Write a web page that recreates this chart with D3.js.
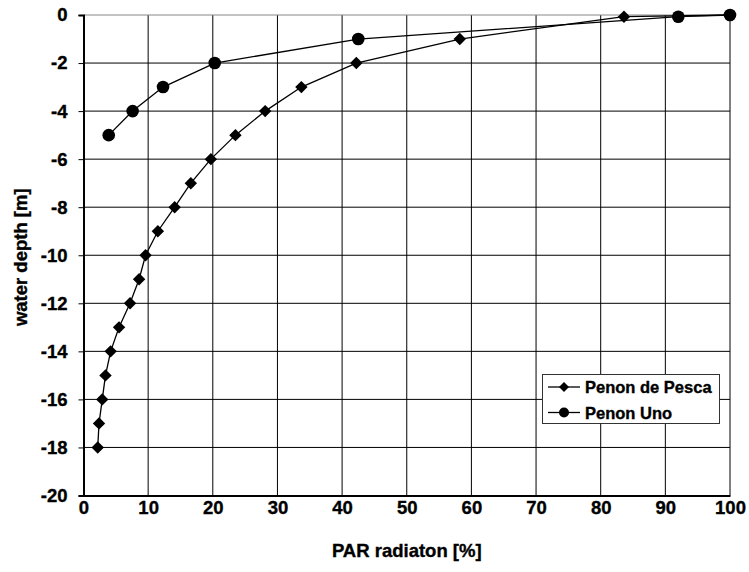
<!DOCTYPE html>
<html><head><meta charset="utf-8">
<script src="https://cdn.jsdelivr.net/npm/d3@7"></script>
<style>body{margin:0;background:#fff}</style>
</head><body>
<svg id="c" width="749" height="572"></svg>
<script>
const pescaX = [100, 83.6, 58.2, 42.2, 33.7, 28.1, 23.5, 19.7, 16.6, 14.1, 11.5, 9.6, 8.6, 7.2, 5.5, 4.2, 3.4, 2.9, 2.4, 2.2];
const pescaY = [0, -0.07, -1, -2, -3, -4, -5, -6, -7, -8, -9, -10, -11, -12, -13, -14, -15, -16, -17, -18];
const unoX = [100, 92.0, 42.5, 20.3, 12.3, 7.6, 3.9];
const unoY = [0, -0.07, -1, -2, -3, -4, -5];
const xTicks = [0,10,20,30,40,50,60,70,80,90,100];
const yTicks = [0,-2,-4,-6,-8,-10,-12,-14,-16,-18,-20];
const seriesNames = ["Penon de Pesca", "Penon Uno"];

const svg = d3.select("#c");
const L = 83.5, R = 730, T = 15, B = 495.5;
const x = d3.scaleLinear().domain([0,100]).range([L,R]);
const y = d3.scaleLinear().domain([-20,0]).range([B,T]);
const font = "'Liberation Sans', Arial, sans-serif";
const fmt = d => String(d);
const sw = 0.35;

// grid
const g = svg.append("g");
g.selectAll("line.v").data(xTicks.slice(1)).join("line")
  .attr("x1", d=>x(d)).attr("x2", d=>x(d)).attr("y1", T).attr("y2", B)
  .attr("stroke", "#000").attr("stroke-width", 1);
g.selectAll("line.h").data(yTicks.slice(0,-1)).join("line")
  .attr("x1", L).attr("x2", R).attr("y1", d=>y(d)).attr("y2", d=>y(d))
  .attr("stroke", d=> d===0 ? "#888" : "#000").attr("stroke-width", 1);

// axes
const yAxis = d3.axisLeft(y).tickValues(yTicks).tickSize(5).tickPadding(11).tickFormat(fmt);
const ya = svg.append("g").attr("transform", `translate(${L},0)`).call(yAxis);
ya.select(".domain").attr("stroke-width", 2);
ya.selectAll("text").attr("font-family", font).attr("font-weight", "bold").attr("font-size", 18.5)
  .attr("fill","#000").attr("stroke","#000").attr("stroke-width", sw);

const xAxis = d3.axisBottom(x).tickValues(xTicks).tickSize(0).tickPadding(5).tickFormat(fmt);
const xa = svg.append("g").attr("transform", `translate(0,${B})`).call(xAxis);
xa.select(".domain").attr("stroke-width", 2);
xa.selectAll("text").attr("font-family", font).attr("font-weight", "bold").attr("font-size", 18.5)
  .attr("fill","#000").attr("stroke","#000").attr("stroke-width", sw);

// axis titles
svg.append("text").attr("x", (L+R)/2).attr("y", 557).attr("text-anchor","middle")
  .attr("font-family", font).attr("font-weight","bold").attr("font-size", 18.5)
  .attr("stroke","#000").attr("stroke-width", sw).text("PAR radiaton [%]");
svg.append("text").attr("transform", `translate(27,${(T+B)/2 + 2}) rotate(-90)`).attr("text-anchor","middle")
  .attr("font-family", font).attr("font-weight","bold").attr("font-size", 18.5)
  .attr("stroke","#000").attr("stroke-width", sw).text("water depth [m]");

const line = d3.line().x(d=>x(d[0])).y(d=>y(d[1]));
const pesca = pescaX.map((v,i)=>[v, pescaY[i]]);
const uno = unoX.map((v,i)=>[v, unoY[i]]);

svg.append("path").datum(pesca).attr("d", line).attr("fill","none").attr("stroke","#000").attr("stroke-width",1.3);
svg.append("path").datum(uno).attr("d", line).attr("fill","none").attr("stroke","#000").attr("stroke-width",1.3);

function diamondPath(s){ return `M0,${-s}L${s},0L0,${s}L${-s},0Z`; }
svg.selectAll("path.dm").data(pesca).join("path")
  .attr("d", diamondPath(6.2)).attr("transform", d=>`translate(${x(d[0])},${y(d[1])})`).attr("fill","#000");
svg.selectAll("circle.cm").data(uno).join("circle")
  .attr("cx", d=>x(d[0])).attr("cy", d=>y(d[1])).attr("r", 6.3).attr("fill","#000");

// legend
const lg = svg.append("g");
lg.append("rect").attr("x", 542.5).attr("y", 374.5).attr("width", 177).attr("height", 49)
  .attr("fill","#fff").attr("stroke","#333").attr("stroke-width",1);
seriesNames.forEach((n,i)=>{
  const yy = 387 + i*25.5;
  lg.append("line").attr("x1", 548).attr("x2", 580).attr("y1", yy).attr("y2", yy).attr("stroke","#000").attr("stroke-width",1.3);
  if (i===0) lg.append("path").attr("d", diamondPath(5)).attr("transform", `translate(564,${yy})`).attr("fill","#000");
  else lg.append("circle").attr("cx",564).attr("cy",yy).attr("r",5).attr("fill","#000");
  lg.append("text").attr("x", 585).attr("y", yy+6).attr("font-family", font).attr("font-weight","bold")
    .attr("font-size", 16.5).attr("stroke","#000").attr("stroke-width", sw).text(n);
});
</script>
</body></html>
